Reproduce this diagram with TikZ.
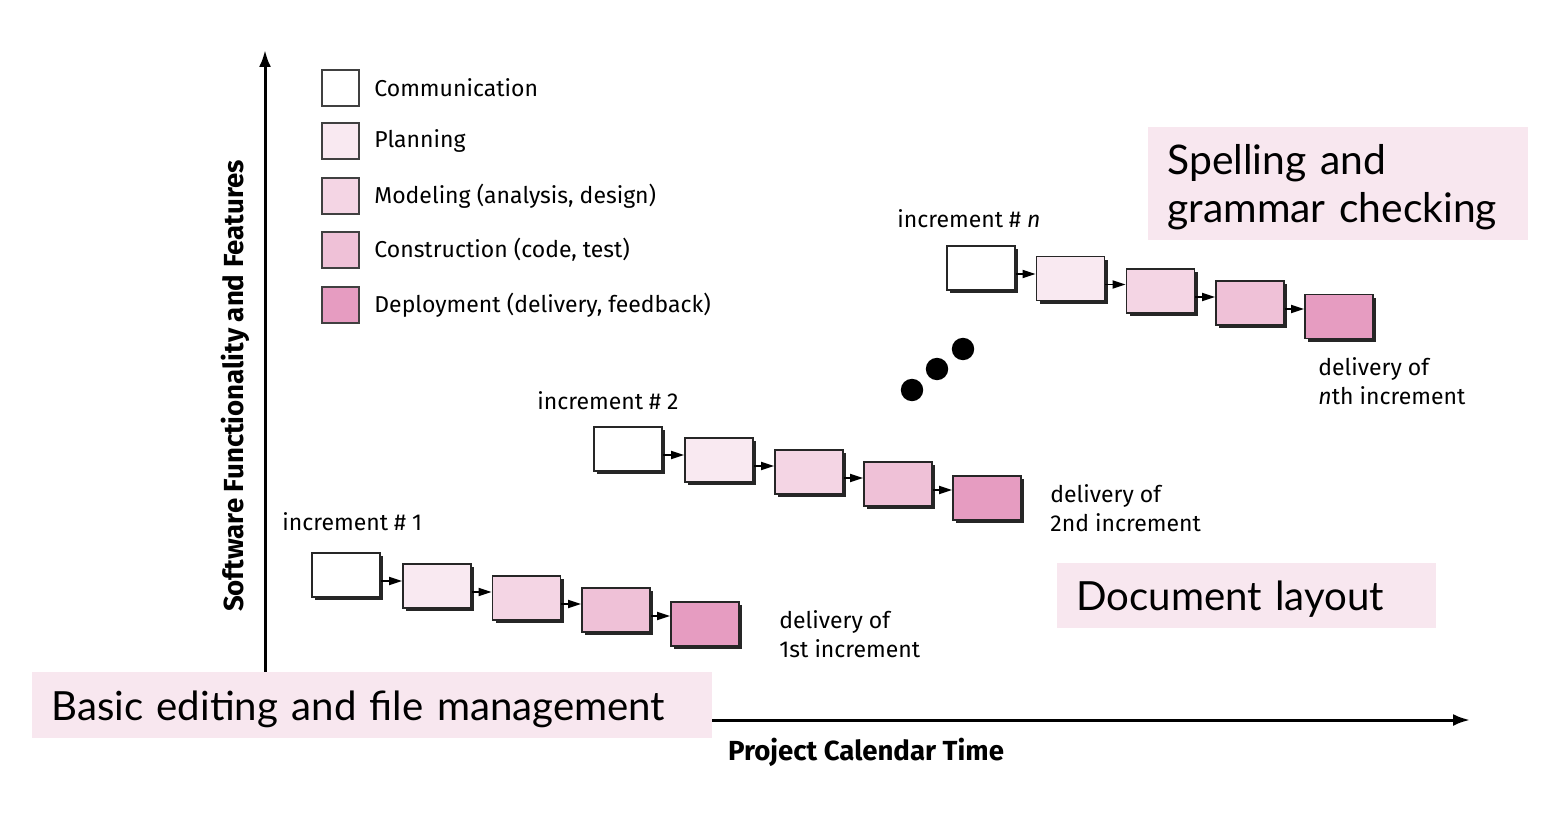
\documentclass[tikz,border=0pt]{standalone}
\usepackage{fontspec}
\setmainfont{Fira Sans}
\newfontfamily\notefont{Lato}
\usetikzlibrary{arrows.meta,shadows,positioning}

\definecolor{plan}{RGB}{249,233,241}
\definecolor{model}{RGB}{244,213,228}
\definecolor{constr}{RGB}{239,193,215}
\definecolor{deploy}{RGB}{230,156,193}
\definecolor{note}{RGB}{248,231,239}

\begin{document}
\begin{tikzpicture}[x=0.5pt,y=-0.5pt,
  act/.style={draw=black!85, line width=0.9pt, minimum width=34pt, minimum height=22pt, inner sep=0pt,
    drop shadow={shadow xshift=1.7pt, shadow yshift=-1.7pt, fill=black!85, opacity=1}},
  key/.style={draw=black!75, line width=1pt, minimum width=18.5pt, minimum height=18pt, inner sep=0pt},
  flow/.style={line width=0.9pt, -{Triangle[length=6.5pt,width=4pt]}},
  axis/.style={line width=1.5pt, -{Latex[length=8.5pt,width=6pt]}},
  txt/.style={font=\fontsize{11.5}{14.5}\selectfont, inner sep=0pt, align=left},
  axlab/.style={font=\bfseries\fontsize{13.8}{16}\selectfont},
  tag/.style={fill=note, anchor=north west, inner xsep=9.5pt, inner ysep=0pt, align=left,
    font=\notefont\fontsize{20.1}{24}\selectfont}
]
\useasboundingbox (0,0) rectangle (1548,840);

% axes
\coordinate (o) at (265,720);
\draw[axis] (o) -- (265,50);
\draw[axis] (o) -- (1470,720);
\node[axlab, rotate=90] (ylab) at (235,386) {Software Functionality and Features};
\node[axlab] (xlab) at (866,752) {Project Calendar Time};

% legend
\node[key, fill=white] (k1) at (340.5,88) {};
\node[key, fill=plan] (k2) at (340.5,141) {};
\node[key, fill=model] (k3) at (340.5,196) {};
\node[key, fill=constr] (k4) at (340.5,250) {};
\node[key, fill=deploy] (k5) at (340.5,305) {};
\node[txt, right=7pt of k1] (k1t) {Communication};
\node[txt, right=7pt of k2] (k2t) {Planning};
\node[txt, right=7pt of k3] (k3t) {Modeling (analysis, design)};
\node[txt, right=7pt of k4] (k4t) {Construction (code, test)};
\node[txt, right=7pt of k5] (k5t) {Deployment (delivery, feedback)};

% increment 1
\node[txt, anchor=west] (i1) at (282,522) {increment \# 1};
\node[act, fill=white] (a1) at (346,575) {};
\node[act, fill=plan] (a2) at (437,586) {};
\node[act, fill=model] (a3) at (526.5,598) {};
\node[act, fill=constr] (a4) at (616,610) {};
\node[act, fill=deploy] (a5) at (705,624) {};
\draw[flow] ([yshift=-3pt]a1.east) -- ([yshift=-3pt]a1.east -| a2.west);
\draw[flow] ([yshift=-3pt]a2.east) -- ([yshift=-3pt]a2.east -| a3.west);
\draw[flow] ([yshift=-3pt]a3.east) -- ([yshift=-3pt]a3.east -| a4.west);
\draw[flow] ([yshift=-3pt]a4.east) -- ([yshift=-3pt]a4.east -| a5.west);
\node[txt, anchor=west] (d1) at (779,634) {delivery of\\1st increment};

% increment 2
\node[txt, anchor=west] (i2) at (537,401) {increment \# 2};
\node[act, fill=white] (b1) at (628,449) {};
\node[act, fill=plan] (b2) at (719,460) {};
\node[act, fill=model] (b3) at (809,472) {};
\node[act, fill=constr] (b4) at (898,484) {};
\node[act, fill=deploy] (b5) at (987,498) {};
\draw[flow] ([yshift=-3pt]b1.east) -- ([yshift=-3pt]b1.east -| b2.west);
\draw[flow] ([yshift=-3pt]b2.east) -- ([yshift=-3pt]b2.east -| b3.west);
\draw[flow] ([yshift=-3pt]b3.east) -- ([yshift=-3pt]b3.east -| b4.west);
\draw[flow] ([yshift=-3pt]b4.east) -- ([yshift=-3pt]b4.east -| b5.west);
\node[txt, anchor=west] (d2) at (1050,508) {delivery of\\2nd increment};

% dots
\fill (912,390) circle[radius=5.6pt];
\fill (937,369) circle[radius=5.6pt];
\fill (963,349) circle[radius=5.6pt];

% increment n
\node[txt, anchor=west] (in) at (897,219) {increment \# \textit{n}};
\node[act, fill=white] (c1) at (981,268) {};
\node[act, fill=plan] (c2) at (1070.5,278.5) {};
\node[act, fill=model] (c3) at (1160.5,291) {};
\node[act, fill=constr] (c4) at (1250,303) {};
\node[act, fill=deploy] (c5) at (1339,316.5) {};
\draw[flow] ([yshift=-3pt]c1.east) -- ([yshift=-3pt]c1.east -| c2.west);
\draw[flow] ([yshift=-3pt]c2.east) -- ([yshift=-3pt]c2.east -| c3.west);
\draw[flow] ([yshift=-3pt]c3.east) -- ([yshift=-3pt]c3.east -| c4.west);
\draw[flow] ([yshift=-3pt]c4.east) -- ([yshift=-3pt]c4.east -| c5.west);
\node[txt, anchor=west] (dn) at (1318,381) {delivery of\\\textit{n}th increment};

% notes
\node[tag, text height=18pt, font=\notefont\fontsize{20.4}{24}\selectfont, text width=171pt, minimum height=56.5pt] (t1) at (1148,127) {Spelling and\\grammar checking};
\node[tag, text depth=0pt, text width=170.5pt, minimum height=32.5pt] (t2) at (1057,563) {Document layout};
\node[tag, text depth=0pt, text width=321pt, minimum height=33pt] (t3) at (32,672) {Basic editing and file management};
\end{tikzpicture}
\end{document}
